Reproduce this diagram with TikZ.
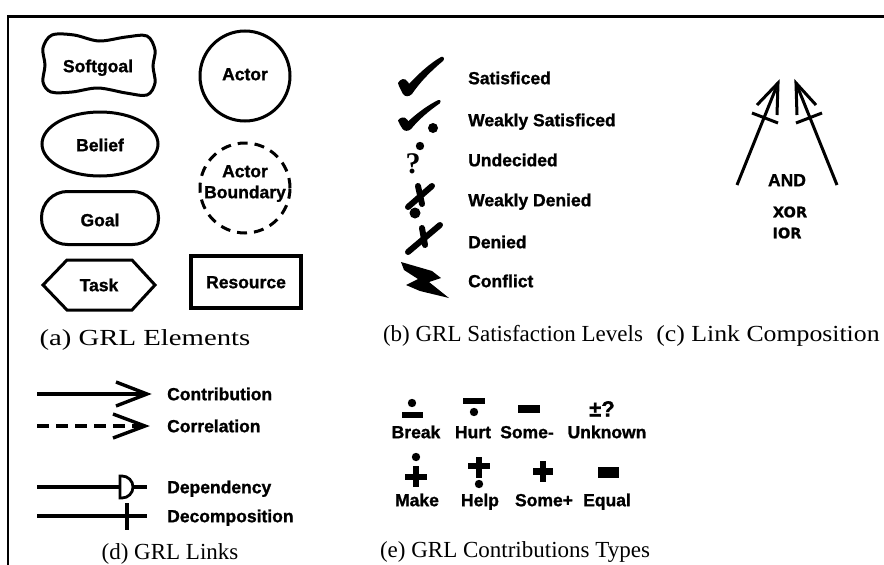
\documentclass[tikz,border=0pt]{standalone}
\usepackage{fontspec}
\usepackage{graphicx}
\setmainfont{Liberation Serif}
\setsansfont{Liberation Sans}[BoldFeatures={FakeBold=1.2}]
\newfontfamily\widesans{DejaVu Sans}[BoldFeatures={FakeBold=1}]
\usetikzlibrary{shapes.geometric}

\begin{document}
\begin{tikzpicture}[x=1pt,y=-1pt,
  lbl/.style={font=\sffamily\bfseries\fontsize{17.5}{20}\selectfont, inner sep=0pt, text height=12.4pt, text depth=0pt},
  captxt/.style={font=\fontsize{23}{26}\selectfont, inner sep=0pt, text height=15pt, text depth=0pt},
  shp/.style={draw, line width=3pt},
  lnk/.style={line width=3.4pt},
  brush/.style={line width=6pt, line cap=round},
  framerule/.style={line width=2.6pt}]
\useasboundingbox (0,0) rectangle (884,565);

% outer frame (top and left rules)
\draw[framerule] (884,16.5) -- (8,16.5) -- (8,565);

% ---------------- (a) GRL elements ----------------
\draw[shp] plot[smooth cycle, tension=0.55] coordinates {
  (52,35) (74,35) (99,41) (126,37) (147,36)
  (155,50) (153,66) (155,83)
  (147,95) (126,93) (98,88) (72,92) (51,92)
  (43,82) (45,65) (43,48)};
\node[lbl] (softgoal) at (98,66) {Softgoal};

\node[shp, circle, minimum size=90pt, inner sep=0pt] (actor) at (245,76) {};
\node[lbl] (actortxt) at (245,74) {Actor};

\node[shp, ellipse, minimum width=116pt, minimum height=64pt, inner sep=0pt] (belief) at (100,144) {};
\node[lbl] (belieftxt) at (100,145) {Belief};

\node[draw, circle, line width=3pt, dash pattern=on 10pt off 7pt, minimum size=90pt, inner sep=0pt] (boundary) at (245,188) {};
\node[lbl] (bnd1) at (245,171) {Actor};
\node[lbl] (bnd2) at (245,192) {Boundary};

\node[shp, rectangle, rounded corners=26pt, minimum width=117pt, minimum height=53pt, inner sep=0pt] (goal) at (100,218) {};
\node[lbl] (goaltxt) at (100,220) {Goal};

\draw[shp, line join=miter] (43,285) -- (67,260) -- (132,260) -- (155,285) -- (132,310) -- (67,310) -- cycle;
\node[lbl] (task) at (99,285) {Task};

\node[draw, line width=4pt, minimum width=110pt, minimum height=52pt, inner sep=0pt] (resource) at (246,282) {};
\node[lbl] (restxt) at (246,282) {Resource};

\node[captxt] (capa) at (145,338) {\scalebox{1.25}[1]{(a) GRL Elements}};

% ---------------- (b) satisfaction levels ----------------
\newcommand\tickmark{%
  (0,25) .. controls (2,21) and (7,19) .. (10,24) -- (11,26)
  .. controls (22,14) and (34,4) .. (43,-1)
  .. controls (46,-2) and (47,1) .. (45,3)
  .. controls (34,12) and (22,24) .. (14,36)
  .. controls (11,39) and (7,39) .. (5,36)
  .. controls (3,32) and (1,29) .. (0,25) -- cycle}
\begin{scope}[shift={(398,58)}]
  \fill \tickmark;
\end{scope}
\begin{scope}[shift={(398,101)}, xscale=0.93, yscale=0.78]
  \fill \tickmark;
\end{scope}
\fill (433,128) circle (5pt);

\fill (420,146) circle (4.2pt);
\node[font=\bfseries\fontsize{30}{30}\selectfont, inner sep=0pt] (undq) at (413,164) {?};

\draw[brush] (432,186) -- (408,207);
\draw[brush] (418,186) -- (422,204);
\fill (415,213) circle (5.5pt);

\draw[brush] (440,225) -- (408,252);
\draw[brush] (422,228) -- (425,245);

\fill (401,262) -- (432,271) -- (441,278) -- (429,282) -- (449,298)
  -- (420,291) -- (406,285) -- (418,279) -- (404,270) -- cycle;

\node[lbl, anchor=west] (sat) at (468,78) {Satisficed};
\node[lbl, anchor=west] (wsat) at (468,120) {Weakly Satisficed};
\node[lbl, anchor=west] (und) at (468,160) {Undecided};
\node[lbl, anchor=west] (wden) at (468,200) {Weakly Denied};
\node[lbl, anchor=west] (den) at (468,242) {Denied};
\node[lbl, anchor=west] (conf) at (468,281) {Conflict};

\node[captxt] (capb) at (513,334) {(b) GRL Satisfaction Levels};

% ---------------- (c) link composition ----------------
\coordinate (la) at (737,185);
\coordinate (lt) at (778,83);
\coordinate (lb1) at (757,105);
\coordinate (lb2) at (777,115);
\coordinate (lx1) at (752,113);
\coordinate (lx2) at (778,123);
\coordinate (ra) at (837,185);
\coordinate (rt) at (796,83);
\coordinate (rb1) at (816,105);
\coordinate (rb2) at (797,115);
\coordinate (rx1) at (822,113);
\coordinate (rx2) at (796,123);
\draw[line width=3pt] (la) -- (lt);
\draw[line width=3pt] (lb1) -- (lt) -- (lb2);
\draw[line width=3pt] (lx1) -- (lx2);
\draw[line width=3pt] (ra) -- (rt);
\draw[line width=3pt] (rb1) -- (rt) -- (rb2);
\draw[line width=3pt] (rx1) -- (rx2);
\node[lbl] (and) at (787,180) {AND};
\node[font=\widesans\bfseries\fontsize{14.5}{16}\selectfont, inner sep=0pt] (xor) at (790,212) {XOR};
\node[font=\widesans\bfseries\fontsize{14.5}{16}\selectfont, inner sep=0pt] (ior) at (787,233) {IOR};

\node[captxt] (capc) at (768,334) {\scalebox{1.12}[1]{(c) Link Composition}};

% ---------------- (d) GRL links ----------------
\coordinate (c0) at (37,394);
\coordinate (c1) at (147,394);
\draw[lnk] (c0) -- (c1);
\draw[lnk] (116,382) -- (c1) -- (116,406);

\coordinate (r0) at (37,426);
\coordinate (r1) at (145,426);
\draw[lnk, dash pattern=on 12pt off 7pt] (r0) -- (r1);
\draw[lnk] (113,414) -- (r1) -- (113,438);

\coordinate (d0) at (37,487);
\coordinate (d1) at (120,487);
\coordinate (d2) at (133,487);
\coordinate (d3) at (147,487);
\draw[lnk] (d0) -- (d1);
\draw[line width=2.8pt] (120,476) -- (122,476) arc[start angle=90, end angle=-90, radius=11pt] -- (120,498) -- cycle;
\draw[lnk] (d2) -- (d3);

\coordinate (k0) at (37,516);
\coordinate (k1) at (147,516);
\draw[lnk] (k0) -- (k1);
\draw[lnk] (127,503) -- (127,530);

\node[lbl, anchor=west] (contrib) at (167,394) {Contribution};
\node[lbl, anchor=west] (correl) at (167,426) {Correlation};
\node[lbl, anchor=west] (depend) at (167,487) {Dependency};
\node[lbl, anchor=west] (decomp) at (167,516) {Decomposition};

\node[captxt] (capd) at (170,552) {(d) GRL Links};

% ---------------- (e) contribution types ----------------
% Break
\fill (412,403) circle (4.2pt);
\fill (402,412) rectangle (423,418);
% Hurt
\fill (463,398) rectangle (485,404);
\fill (474,412) circle (4.2pt);
% Some-
\fill (518,405) rectangle (540,413);
% Unknown
\node[font=\sffamily\bfseries\fontsize{22}{22}\selectfont, inner sep=0pt, text height=15pt, text depth=0pt] (unk) at (602,409) {±?};
% Make
\fill (416,457) circle (4.2pt);
\fill (405,474) rectangle (427,480);
\fill (413,466) rectangle (419,487);
% Help
\fill (468,463) rectangle (490,469);
\fill (476,457) rectangle (482,478);
\fill (479,484) circle (4.2pt);
% Some+
\fill (533,468) rectangle (553,475);
\fill (540,461) rectangle (546,482);
% Equal
\fill (598,467) rectangle (619,478);

\node[lbl] (brk) at (416,432) {Break};
\node[lbl] (hrt) at (473,432) {Hurt};
\node[lbl] (smm) at (527,432) {Some-};
\node[lbl] (unkt) at (607,432) {Unknown};
\node[lbl] (mak) at (417,500) {Make};
\node[lbl] (hlp) at (480,500) {Help};
\node[lbl] (smp) at (544,500) {Some+};
\node[lbl] (eql) at (607,500) {Equal};

\node[captxt] (cape) at (515,550) {(e) GRL Contributions Types};
\end{tikzpicture}
\end{document}
